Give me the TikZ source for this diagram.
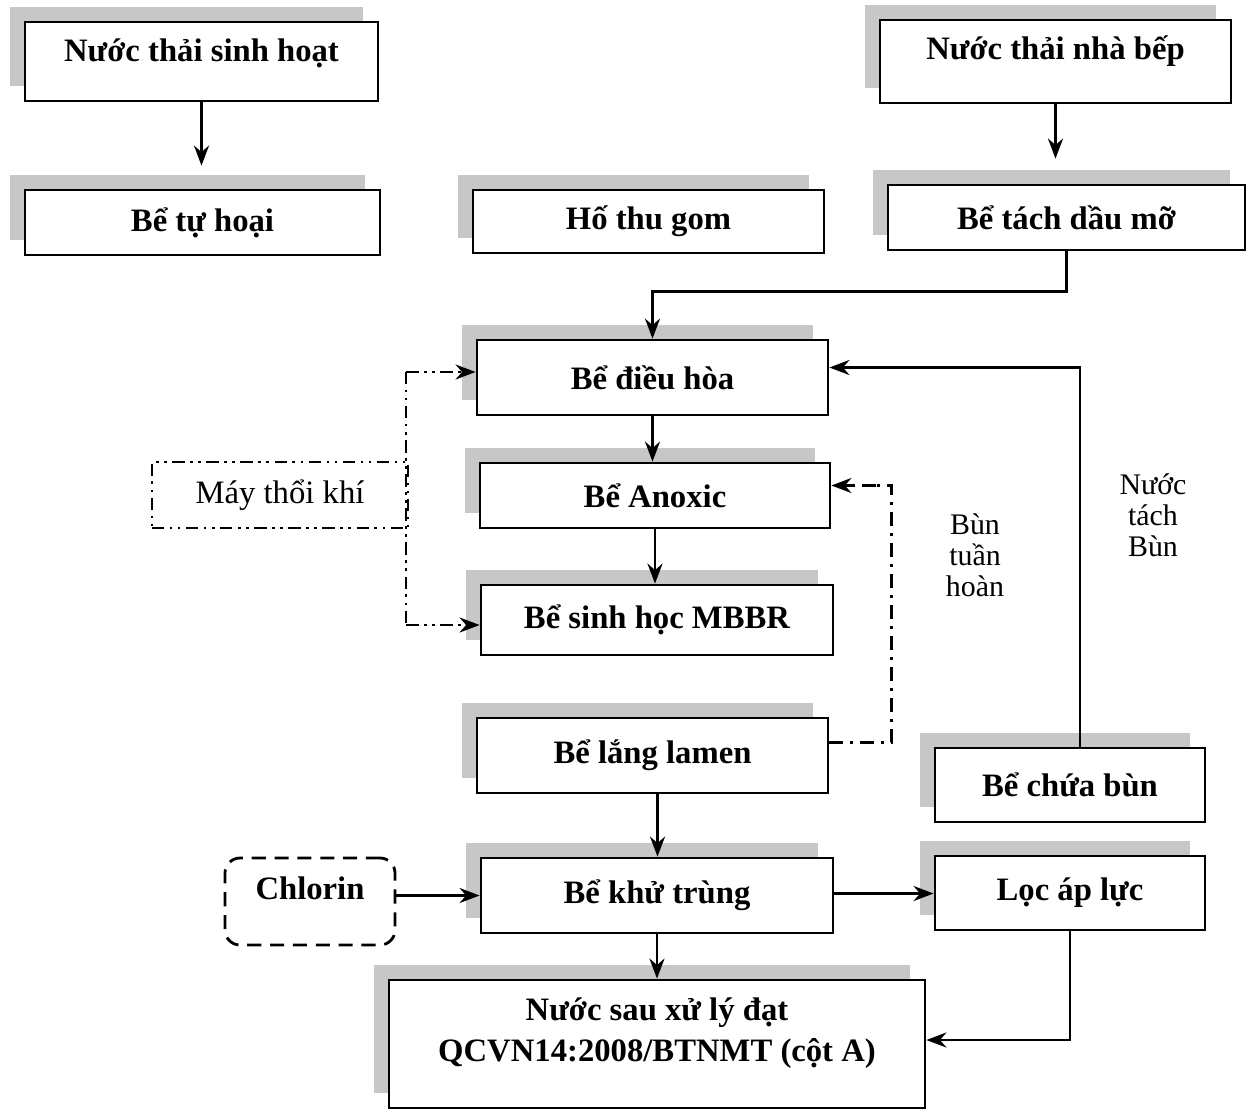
\documentclass[tikz,border=0pt]{standalone}
\usepackage{fontspec}
\setmainfont{Liberation Serif}
\usetikzlibrary{arrows.meta,shadows}

\begin{document}
\begin{tikzpicture}[
		font=\fontsize{9.3}{11.5}\selectfont,
		box/.style={draw, line width=0.8pt, fill=white, inner sep=0pt,
			font=\fontsize{9.3}{11.5}\selectfont\bfseries,
			general shadow={fill=black!22, shadow xshift=-0.15cm, shadow yshift=0.15cm}},
		arr/.style={line width=0.8pt, -{Stealth[length=2mm,width=1.5mm]}},
		airline/.style={line width=0.7pt, dash pattern=on 3.5pt off 1.6pt on 0.7pt off 1.6pt on 0.7pt off 1.6pt},
		backline/.style={line width=0.7pt, dash pattern=on 4pt off 2pt on 0.8pt off 2pt},
		sidetext/.style={align=center, font=\fontsize{8.5}{8.8}\selectfont}
	]
			%%%%% START %%%%%
			
			\useasboundingbox (0, 0) rectangle (12.49, -11.10);
			
			% nguon nuoc thai
			\node[box, minimum width=3.53cm, minimum height=0.79cm, text depth=0.22cm] (nuocsh) at (2.015, -0.615) {Nước thải sinh hoạt};
			\node[box, minimum width=3.55cm, minimum height=0.65cm] (betuhoai) at (2.025, -2.225) {Bể tự hoại};
			\node[box, minimum width=3.51cm, minimum height=0.63cm] (hothu) at (6.485, -2.215) {Hố thu gom};
			\node[box, minimum width=3.51cm, minimum height=0.83cm, text depth=0.27cm] (nuocbep) at (10.555, -0.615) {Nước thải nhà bếp};
			\node[box, minimum width=3.57cm, minimum height=0.65cm] (betach) at (10.665, -2.175) {Bể tách dầu mỡ};
			
			% day chuyen chinh
			\node[box, minimum width=3.51cm, minimum height=0.75cm] (dieuhoa) at (6.525, -3.775) {Bể điều hòa};
			\node[box, minimum width=3.50cm, minimum height=0.65cm] (anoxic) at (6.55, -4.955) {Bể Anoxic};
			\node[box, minimum width=3.52cm, minimum height=0.70cm] (mbbr) at (6.57, -6.20) {Bể sinh học MBBR};
			\node[box, minimum width=3.51cm, minimum height=0.75cm] (lamen) at (6.525, -7.555) {Bể lắng lamen};
			\node[box, minimum width=3.52cm, minimum height=0.75cm] (khutrung) at (6.57, -8.955) {Bể khử trùng};
			\node[box, minimum width=5.36cm, minimum height=1.28cm, align=center, text depth=0.29cm] (daura) at (6.57, -10.44) {Nước sau xử lý đạt\\QCVN14:2008/BTNMT (cột A)};
			
			% ben phai
			\node[box, minimum width=2.70cm, minimum height=0.74cm] (chuabun) at (10.70, -7.85) {Bể chứa bùn};
			\node[box, minimum width=2.70cm, minimum height=0.74cm] (locap) at (10.70, -8.93) {Lọc áp lực};
			
			% ben trai
			\node[draw, line width=0.8pt, dash pattern=on 4pt off 2.5pt, rounded corners=0.15cm, minimum width=1.70cm, minimum height=0.87cm, inner sep=0pt, text depth=0.26cm, font=\fontsize{9.3}{11.5}\selectfont\bfseries] (chlorin) at (3.10, -9.015) {Chlorin};
			\node[draw, airline, minimum width=2.56cm, minimum height=0.66cm, inner sep=0pt] (maythoi) at (2.80, -4.95) {Máy thổi khí};
			
			\node[sidetext] (buntuan) at (9.75, -5.55) {Bùn\\tuần\\hoàn};
			\node[sidetext] (nuoctach) at (11.53, -5.15) {Nước\\tách\\Bùn};
			
			% duong nuoc
			\draw[arr, shorten >=0.23cm] (nuocsh.south) -- (nuocsh.south |- betuhoai.north);
			\draw[arr, shorten >=0.25cm] (nuocbep.south) -- (nuocbep.south |- betach.north);
			\draw[arr] (betach.south) -- ++(0, -0.40) -| (dieuhoa.north);
			\draw[arr] (dieuhoa.south) -- (dieuhoa.south |- anoxic.north);
			\draw[arr] (anoxic.south) -- (anoxic.south |- mbbr.north);
			\draw[arr] ([xshift=0.05cm]lamen.south) -- ([xshift=0.05cm]lamen.south |- khutrung.north);
			\draw[arr] (khutrung.south) -- (khutrung.south |- daura.north);
			\draw[arr] ([yshift=0.02cm]khutrung.east) -- ([yshift=0.02cm]khutrung.east -| locap.west);
			\draw[arr] (locap.south) |- ([yshift=0.04cm]daura.east);
			\draw[arr] (chlorin.east |- khutrung.west) -- (khutrung.west);
			\draw[arr] ([xshift=0.10cm]chuabun.north) |- ([yshift=0.10cm]dieuhoa.east);
			
			% bun tuan hoan
			\draw[backline] ([yshift=0.13cm]lamen.east) -- ++(0.62, 0) |- ([xshift=0.45cm, yshift=0.10cm]anoxic.east);
			\draw[arr, dash pattern=on 4pt off 2pt] ([xshift=0.45cm, yshift=0.10cm]anoxic.east) -- ([yshift=0.10cm]anoxic.east);
			
			% khi
			\draw[airline] ([xshift=-0.03cm]maythoi.east |- 0, -3.72) -- ([xshift=-0.03cm]maythoi.east |- 0, -6.25);
			\draw[airline, -{Stealth[length=2mm,width=1.5mm]}] ([xshift=-0.03cm]maythoi.east |- 0, -3.72) -- (dieuhoa.west |- 0, -3.72);
			\draw[airline, -{Stealth[length=2mm,width=1.5mm]}] ([xshift=-0.03cm]maythoi.east |- 0, -6.25) -- (mbbr.west |- 0, -6.25);
			
			%%%%% END %%%%%
		\end{tikzpicture}
\end{document}
